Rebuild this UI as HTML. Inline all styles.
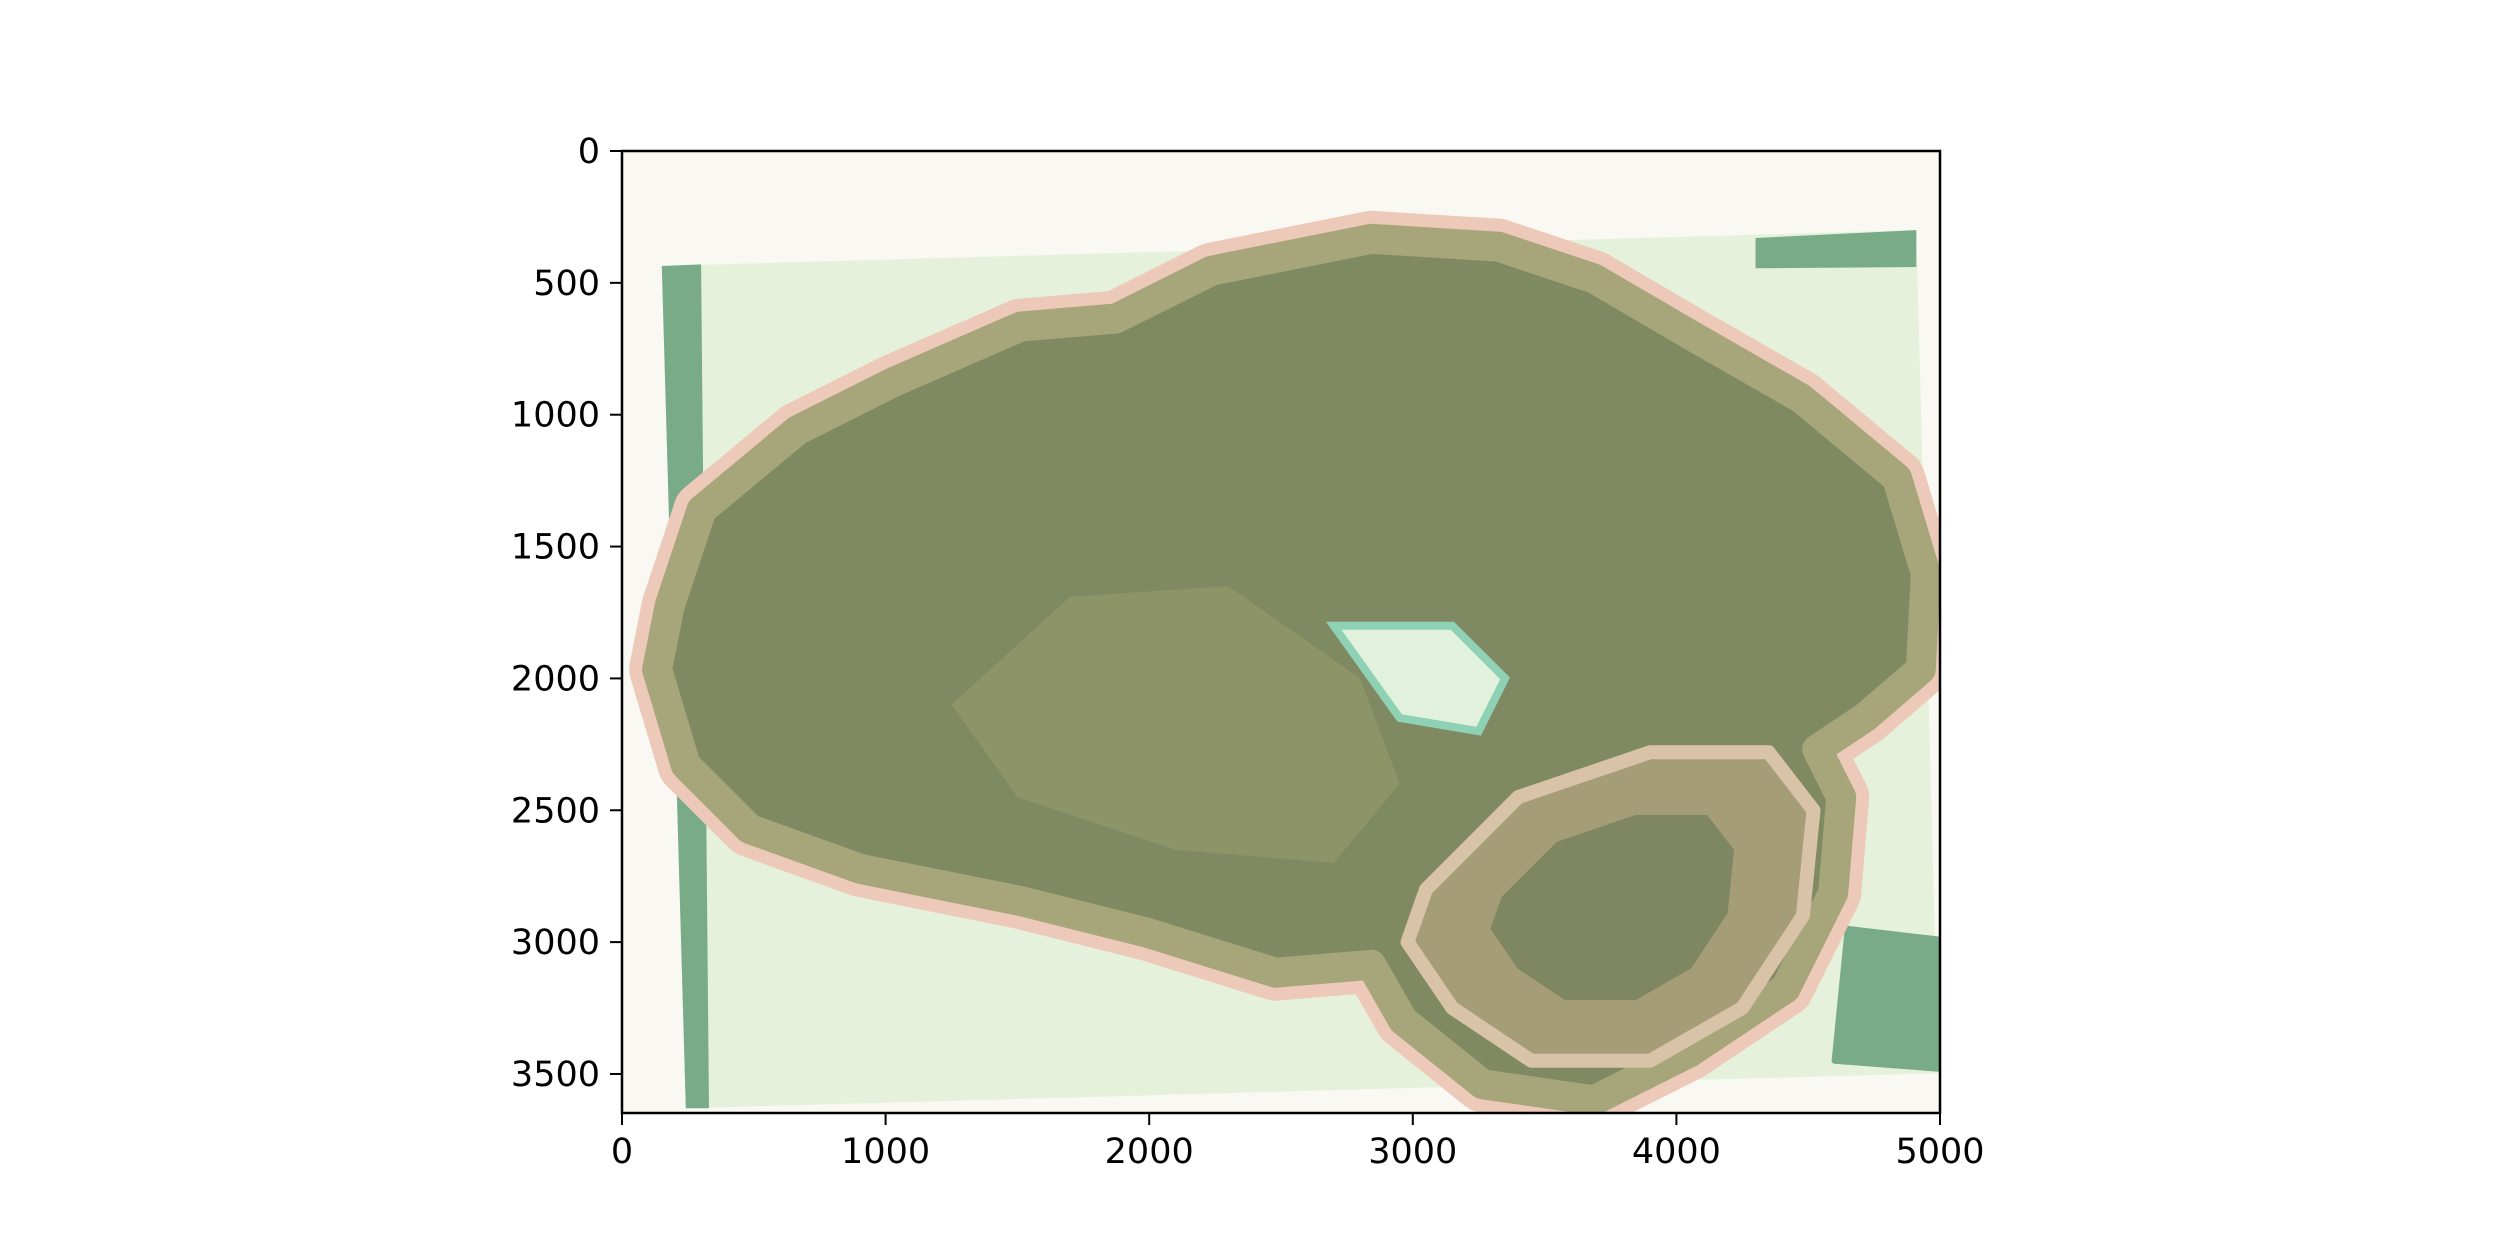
<!DOCTYPE html>
<html><head><meta charset="utf-8"><style>
html,body{margin:0;padding:0;background:#fff;}
svg{display:block;}
text{font-family:"DejaVu Sans","Liberation Sans",sans-serif;font-size:35px;fill:#000;}
</style></head><body>
<svg id="chart" width="2500" height="1250" viewBox="0 0 2500 1250" xmlns="http://www.w3.org/2000/svg">
<defs><clipPath id="clip"><rect x="622" y="151" width="1318" height="962"/></clipPath></defs>
<rect x="622" y="151" width="1318" height="962" fill="#f9f8f3"/>
<g id="img" clip-path="url(#clip)"></g>
<g id="axes"></g>
</svg>
<script>
const xTicks=[0,1000,2000,3000,4000,5000];
const yTicks=[0,500,1000,1500,2000,2500,3000,3500];
const xMax=5000, yMax=3648;
const slide=[[151,436],[4910,300],[4994,3497],[242,3630]];
const leftStrip=[[151,436],[300,430],[330,3630],[242,3630]];
const cornerTop=[[4300,330],[4910,300],[4910,440],[4300,445]];
const cornerBot=[[4650,2950],[4994,2990],[4994,3480],[4600,3450]];
const brain=[[181,1724],[302,1361],[665,1059],[1028,877],[1512,666],[1874,635],[2237,454],[2842,333],[3325,363],[3688,484],[4051,696],[4474,938],[4837,1240],[4946,1603],[4927,1966],[4716,2148],[4534,2269],[4625,2450],[4595,2813],[4414,3176],[4051,3418],[3688,3600],[3265,3539],[2963,3297],[2842,3086],[2479,3116],[1995,2965],[1512,2844],[907,2723],[484,2571],[242,2329],[133,1966]];
const cerebellum=[[3050,2800],[3400,2450],[3900,2280],[4350,2280],[4520,2500],[4480,2900],[4250,3250],[3900,3450],[3450,3450],[3150,3250],[2980,3000]];
const ventricle=[[2700,1800],[3150,1800],[3350,2000],[3250,2200],[2950,2150]];
const thalamus=[[1250,2100],[1700,1690],[2300,1650],[2800,2000],[2950,2400],[2700,2700],[2100,2650],[1500,2450]];
const X=v=>622+v/xMax*1318, Y=v=>151+v/yMax*962;
const NS='http://www.w3.org/2000/svg';
const img=document.getElementById('img'), ax=document.getElementById('axes');
function poly(pts,fill,name,extra){const p=document.createElementNS(NS,'path');
let d='';pts.forEach((q,i)=>{d+=(i?'L':'M')+X(q[0]).toFixed(1)+' '+Y(q[1]).toFixed(1);});
p.setAttribute('d',d+'Z');p.setAttribute('fill',fill);
if(extra)for(const k in extra)p.setAttribute(k,extra[k]);


img.appendChild(p);return p;}
function scaled(pts,s){let cx=0,cy=0;pts.forEach(q=>{cx+=q[0];cy+=q[1];});cx/=pts.length;cy/=pts.length;
return pts.map(q=>[cx+(q[0]-cx)*s,cy+(q[1]-cy)*s]);}
poly(slide,'#e6f1dc','slide');
poly(leftStrip,'#7aab88','left-strip');
poly(cornerTop,'#7aab88','corner-top');
poly(cornerBot,'#7aab88','corner-bottom',{'stroke':'#7aab88','stroke-width':'6','stroke-linejoin':'round'});
poly(brain,'#ecc9b8','brain-outer',{'stroke':'#ecc9b8','stroke-width':'56','stroke-linejoin':'round'});
poly(brain,'#808a62','brain-white-matter',{'stroke':'#a7a57a','stroke-width':'30','stroke-linejoin':'round'});
poly(cerebellum,'#a59d78','cerebellum',{'stroke':'#d9c3a8','stroke-width':'14','stroke-linejoin':'round'});
poly(scaled(cerebellum,0.6),'#7f8662','cerebellum-core');
poly(thalamus,'#8c9468','thalamus');
poly(ventricle,'#e2f1dc','ventricle',{'stroke':'#8fd1b4','stroke-width':'8'});
const f=document.createElementNS(NS,'rect');
f.setAttribute('x',622);f.setAttribute('y',151);f.setAttribute('width',1318);f.setAttribute('height',962);
f.setAttribute('fill','none');f.setAttribute('stroke','#000');f.setAttribute('stroke-width','2.5');


ax.appendChild(f);
xTicks.forEach(t=>{const x=X(t);
const l=document.createElementNS(NS,'line');l.setAttribute('x1',x);l.setAttribute('x2',x);l.setAttribute('y1',1113);l.setAttribute('y2',1125);l.setAttribute('stroke','#000');l.setAttribute('stroke-width','2');


ax.appendChild(l);
const s=document.createElementNS(NS,'text');s.setAttribute('x',x);s.setAttribute('y',1163);s.setAttribute('text-anchor','middle');s.textContent=t;


ax.appendChild(s);});
yTicks.forEach(t=>{const y=Y(t);
const l=document.createElementNS(NS,'line');l.setAttribute('x1',610);l.setAttribute('x2',622);l.setAttribute('y1',y);l.setAttribute('y2',y);l.setAttribute('stroke','#000');l.setAttribute('stroke-width','2');


ax.appendChild(l);
const s=document.createElementNS(NS,'text');s.setAttribute('x',600);s.setAttribute('y',y+12);s.setAttribute('text-anchor','end');s.textContent=t;


ax.appendChild(s);});
</script>
</body></html>
